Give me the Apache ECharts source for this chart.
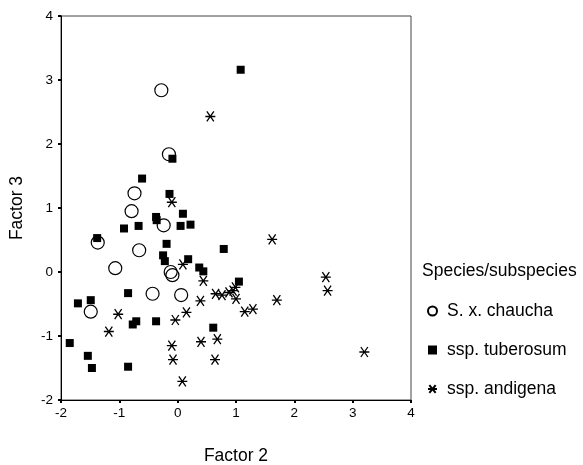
<!DOCTYPE html>
<html>
<head>
<meta charset="utf-8">
<script src="https://cdn.jsdelivr.net/npm/echarts@6/dist/echarts.min.js"></script>
<style>
  html,body{margin:0;padding:0;background:#fff;}
  #chart{width:583px;height:465px;}
</style>
</head>
<body>
<div id="chart"></div>
<script>
// factor scores: [Factor 2, Factor 3]
const chaucha = [
  [-0.28,2.84],[-0.15,1.84],[-0.74,1.23],[-0.79,0.95],[-0.24,0.73],[-0.66,0.34],
  [-1.37,0.46],[-1.07,0.06],[-0.12,0.0],[-0.09,-0.05],[-0.43,-0.34],[0.06,-0.36],
  [-1.49,-0.62]
];
const tuberosum = [
  [1.08,3.16],[-0.09,1.77],[-0.61,1.46],[-0.14,1.22],[0.09,0.91],[-0.37,0.86],
  [-0.36,0.81],[0.05,0.72],[0.22,0.74],[-0.67,0.72],[-0.92,0.68],[-1.38,0.53],
  [-0.19,0.44],[-0.25,0.26],[-0.22,0.17],[0.18,0.20],[0.37,0.07],[0.44,0.01],
  [0.79,0.36],[1.05,-0.15],[-0.85,-0.33],[-1.49,-0.44],[-1.71,-0.49],[-0.77,-0.82],
  [-0.71,-0.77],[-0.37,-0.77],[0.61,-0.87],[-1.85,-1.11],[-1.54,-1.31],[-1.47,-1.50],
  [-0.85,-1.48]
];
const andigena = [
  [0.56,2.43],[-0.10,1.09],[1.62,0.51],[0.09,0.12],[0.44,-0.14],[0.65,-0.34],
  [0.76,-0.36],[0.88,-0.32],[0.95,-0.29],[0.99,-0.24],[1.0,-0.42],[0.39,-0.45],
  [1.15,-0.62],[1.29,-0.58],[1.70,-0.44],[2.54,-0.08],[2.57,-0.29],[3.20,-1.25],
  [0.15,-0.63],[-0.04,-0.75],[-1.02,-0.66],[-1.18,-0.93],[-0.10,-1.15],[-0.08,-1.37],
  [0.40,-1.09],[0.68,-1.05],[0.64,-1.37],[0.08,-1.71]
];
const seriesNames = ['S. x. chaucha','ssp. tuberosum','ssp. andigena'];

const font = '"Liberation Sans", Arial, Helvetica, sans-serif';
const starPath = 'path://M0,5L10,5M1.5,0.7L8.5,9.3M1.5,9.3L8.5,0.7';

const chart = echarts.init(document.getElementById('chart'), null, {renderer:'canvas'});

const option = {
  animation:false,
  backgroundColor:'#fff',
  textStyle:{fontFamily:font,color:'#000'},
  title:{
    text:'Species/subspecies',
    left:417, top:257,
    textStyle:{fontFamily:font,fontSize:17.5,fontWeight:'normal',color:'#000'}
  },
  legend:{
    orient:'vertical',
    left:422, top:297,
    itemWidth:9, itemHeight:9,
    itemGap:21,
    textStyle:{fontFamily:font,fontSize:17.5,color:'#000',lineHeight:18,padding:[0,0,0,5]},
    data:[
      {name:seriesNames[0],icon:'circle'},
      {name:seriesNames[1],icon:'rect',itemStyle:{color:'#000'}},
      {name:seriesNames[2],icon:starPath}
    ]
  },
  grid:{
    left:61, top:16, width:350, height:384,
    containLabel:false, outerBoundsMode:'none',
    show:true, borderColor:'#444', borderWidth:1
  },
  xAxis:{
    type:'value', min:-2, max:4, interval:1,
    name:'Factor 2', nameLocation:'middle', nameGap:47,
    nameTextStyle:{fontFamily:font,fontSize:17.5,color:'#000'},
    axisLine:{show:true,onZero:false,lineStyle:{color:'#000',width:1}},
    axisTick:{show:true,inside:false,length:3,lineStyle:{color:'#000',width:2}},
    axisLabel:{fontFamily:font,fontSize:13.5,color:'#000',margin:6},
    splitLine:{show:false}
  },
  yAxis:{
    type:'value', min:-2, max:4, interval:1,
    name:'Factor 3', nameLocation:'middle', nameGap:35,
    nameTextStyle:{fontFamily:font,fontSize:17.5,color:'#000'},
    axisLine:{show:true,onZero:false,lineStyle:{color:'#000',width:1}},
    axisTick:{show:true,inside:false,length:3,lineStyle:{color:'#000',width:2}},
    axisLabel:{fontFamily:font,fontSize:13.5,color:'#000',margin:8},
    splitLine:{show:false}
  },
  series:[
    {
      name:seriesNames[1], type:'scatter', data:tuberosum,
      symbol:'rect', symbolSize:8,
      itemStyle:{color:'#000',opacity:1}
    },
    {
      name:seriesNames[0], type:'scatter', data:chaucha,
      symbol:'circle', symbolSize:13,
      itemStyle:{color:'rgba(255,255,255,0)',borderColor:'#000',borderWidth:1.2,opacity:1}
    },
    {
      name:seriesNames[2], type:'scatter', data:andigena,
      symbol:starPath, symbolSize:10,
      itemStyle:{color:'rgba(0,0,0,0)',borderColor:'#000',borderWidth:1.3,opacity:1}
    }
  ]
};
chart.setOption(option);
</script>
</body>
</html>
